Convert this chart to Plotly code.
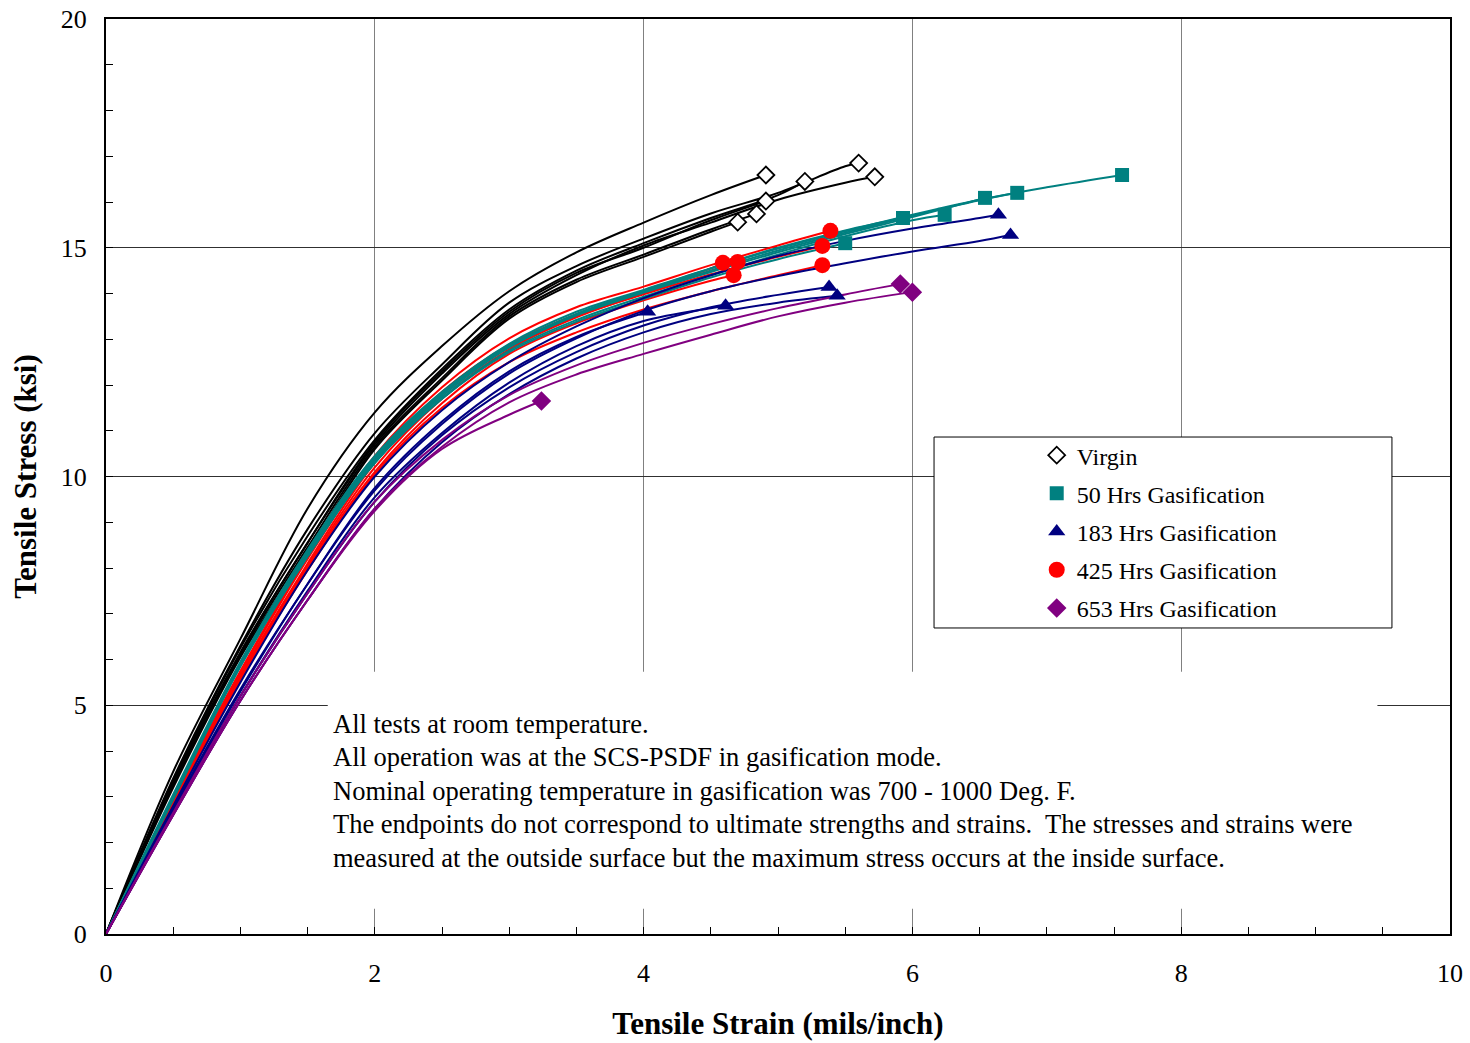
import plotly.graph_objects as go

# ---------------- data ----------------
GRID = [0.0, 0.5, 1.0, 1.5, 2.0, 2.5, 3.0, 3.5, 4.0, 4.5, 5.0, 5.5, 6.0, 6.5, 7.0, 7.5]

SERIES_NAMES = ["Virgin", "50 Hrs Gasification", "183 Hrs Gasification",
                "425 Hrs Gasification", "653 Hrs Gasification"]

# Virgin specimens: stress (ksi) at GRID strains, then endpoint
virgin_stress = [
    [0, 3.55, 6.45, 9.3, 11.4, 12.85, 14.05, 14.9, 15.55, 16.15],
    [0, 3.35, 6.25, 8.7, 10.8, 12.35, 13.65, 14.5, 15.1, 15.65, 16.15],
    [0, 3.4, 6.3, 8.85, 10.95, 12.45, 13.8, 14.6, 15.2, 15.75, 16.2, 16.78],
    [0, 3.3, 6.15, 8.55, 10.7, 12.25, 13.55, 14.4, 15.05, 15.55, 16.05, 16.42],
    [0, 3.3, 6.15, 8.55, 10.75, 12.3, 13.6, 14.45, 15.0, 15.6],
    [0, 3.25, 6.1, 8.45, 10.65, 12.15, 13.5, 14.3, 14.85, 15.4],
    [0, 3.2, 6.05, 8.35, 10.6, 12.1, 13.45, 14.25, 14.8, 15.35],
]
virgin_end_strain = [4.91, 5.20, 5.60, 5.72, 4.91, 4.84, 4.70]
virgin_end_stress = [16.59, 16.45, 16.85, 16.55, 16.02, 15.74, 15.56]

# 50 Hrs gasification
h50_stress = [
    [0, 3.05, 5.95, 8.4, 10.45, 11.85, 12.9, 13.6, 14.08, 14.55, 14.98, 15.36, 15.72, 16.05, 16.32],
    [0, 3.0, 5.9, 8.35, 10.4, 11.8, 12.85, 13.55, 14.05, 14.5, 14.94, 15.33, 15.7, 16.04],
    [0, 3.0, 5.9, 8.3, 10.35, 11.75, 12.82, 13.52, 14.02, 14.47, 14.9, 15.3, 15.67],
    [0, 2.95, 5.85, 8.25, 10.3, 11.7, 12.75, 13.42, 13.93, 14.4, 14.85, 15.25, 15.6],
    [0, 3.0, 5.9, 8.35, 10.4, 11.8, 12.85, 13.55, 14.06, 14.55, 15.0, 15.38],
    [0, 2.95, 5.85, 8.25, 10.3, 11.7, 12.72, 13.38, 13.88, 14.35, 14.75],
]
h50_end_strain = [7.56, 6.78, 6.54, 6.24, 5.93, 5.50]
h50_end_stress = [16.59, 16.20, 16.09, 15.72, 15.65, 15.10]

# 183 Hrs gasification
h183_stress = [
    [0, 2.8, 5.5, 7.95, 10.0, 11.45, 12.5, 13.28, 13.9, 14.4, 14.82, 15.15, 15.42, 15.65],
    [0, 2.7, 5.3, 7.65, 9.7, 11.15, 12.25, 13.02, 13.62, 14.05, 14.38, 14.66, 14.92, 15.15],
    [0, 2.65, 5.2, 7.45, 9.45, 10.9, 11.95, 12.72, 13.3, 13.7, 13.97],
    [0, 2.6, 5.1, 7.3, 9.3, 10.75, 11.8, 12.58, 13.15, 13.55, 13.8],
    [0, 2.65, 5.2, 7.5, 9.55, 10.95, 12.05, 12.85, 13.4, 13.68],
    [0, 2.75, 5.35, 7.65, 9.75, 11.2, 12.3, 13.05],
]
h183_end_strain = [6.64, 6.73, 5.38, 5.44, 4.61, 4.03]
h183_end_stress = [15.72, 15.28, 14.14, 13.95, 13.73, 13.60]

# 425 Hrs gasification
h425_stress = [
    [0, 2.95, 5.75, 8.25, 10.45, 11.95, 13.02, 13.7, 14.15, 14.62, 15.05],
    [0, 2.9, 5.65, 8.1, 10.3, 11.8, 12.83, 13.5, 13.98, 14.42, 14.8],
    [0, 2.85, 5.55, 7.95, 10.05, 11.5, 12.5, 13.15, 13.65, 14.05, 14.4],
    [0, 2.9, 5.7, 8.2, 10.35, 11.85, 12.88, 13.55, 14.05, 14.55],
    [0, 2.85, 5.6, 8.05, 10.2, 11.7, 12.78, 13.48, 14.0, 14.5],
    [0, 2.8, 5.55, 8.0, 10.1, 11.6, 12.68, 13.35, 13.85, 14.28],
]
h425_end_strain = [5.39, 5.33, 5.33, 4.59, 4.70, 4.67]
h425_end_stress = [15.37, 15.04, 14.62, 14.67, 14.69, 14.40]

# 653 Hrs gasification
h653_stress = [
    [0, 2.65, 5.2, 7.45, 9.45, 10.8, 11.78, 12.43, 12.92, 13.33, 13.68, 13.98],
    [0, 2.6, 5.1, 7.3, 9.3, 10.65, 11.62, 12.23, 12.68, 13.1, 13.5, 13.8],
    [0, 2.6, 5.1, 7.3, 9.25, 10.6, 11.35],
]
h653_end_strain = [5.91, 6.00, 3.24]
h653_end_stress = [14.21, 14.03, 11.65]

X_TICKS = [0, 2, 4, 6, 8, 10]
Y_TICKS = [0, 5, 10, 15, 20]

NOTE_LINES = [
    "All tests at room temperature.",
    "All operation was at the SCS-PSDF in gasification mode.",
    "Nominal operating temperature in gasification was 700 - 1000 Deg. F.",
    "The endpoints do not correspond to ultimate strengths and strains.\u00a0 The stresses and strains were",
    "measured at the outside surface but the maximum stress occurs at the inside surface.",
]
NOTE_Y = [4.590, 3.869, 3.126, 2.404, 1.661]

# ---------------- styling ----------------
FONT = "Liberation Serif, Times New Roman, serif"
STYLES = [
    dict(color="black", symbol="diamond", fill="white", size=13, lw=1.8),
    dict(color="#008080", symbol="square", fill="#008080", size=14, lw=0),
    dict(color="#000080", symbol="triangle-up", fill="#000080", size=15, lw=0),
    dict(color="#FF0000", symbol="circle", fill="#FF0000", size=16, lw=0),
    dict(color="#800080", symbol="diamond", fill="#800080", size=15, lw=0),
]
ALL = [
    (virgin_stress, virgin_end_strain, virgin_end_stress),
    (h50_stress, h50_end_strain, h50_end_stress),
    (h183_stress, h183_end_strain, h183_end_stress),
    (h425_stress, h425_end_strain, h425_end_stress),
    (h653_stress, h653_end_strain, h653_end_stress),
]
DRAW_ORDER = [0, 3, 1, 2, 4]

fig = go.Figure()

# curves
for si in DRAW_ORDER:
    curves, ex, ey = ALL[si]
    st = STYLES[si]
    for ci, vals in enumerate(curves):
        xs = GRID[:len(vals)] + [ex[ci]]
        ys = list(vals) + [ey[ci]]
        fig.add_trace(go.Scatter(
            x=xs, y=ys, mode="lines",
            line=dict(color=st["color"], width=2, shape="spline", smoothing=1.0),
            legendgroup=SERIES_NAMES[si], showlegend=False, hoverinfo="skip"))

# endpoint markers (also used as legend entries)
for si in DRAW_ORDER:
    curves, ex, ey = ALL[si]
    st = STYLES[si]
    fig.add_trace(go.Scatter(
        x=ex, y=ey, mode="markers", name=SERIES_NAMES[si],
        legendgroup=SERIES_NAMES[si], showlegend=True, legendrank=si + 1,
        marker=dict(symbol=st["symbol"], size=st["size"], color=st["fill"],
                    line=dict(color=st["color"], width=st["lw"]))))

# white boxes (legend frame and note box) above the grid, below the data
fig.add_shape(type="rect", xref="x", yref="y", x0=6.161, x1=9.568, y0=6.689, y1=10.863,
              line=dict(color="black", width=1), fillcolor="white", layer="between")
fig.add_shape(type="rect", xref="x", yref="y", x0=1.65, x1=9.46, y0=0.55, y1=5.73,
              line=dict(width=0), fillcolor="white", layer="between")

for txt, yv in zip(NOTE_LINES, NOTE_Y):
    fig.add_annotation(x=1.674, y=yv, xref="x", yref="y", xanchor="left", yanchor="middle",
                       align="left", showarrow=False, text=txt,
                       font=dict(family=FONT, size=26.5, color="black"))

axis_common = dict(showline=True, linecolor="black", linewidth=2, mirror=True,
                   ticks="inside", ticklen=7, tickcolor="black", tickwidth=1,
                   zeroline=False, showgrid=True, gridwidth=1,
                   tickfont=dict(family=FONT, size=26, color="black"))

fig.update_xaxes(range=[0, 10], tickvals=X_TICKS, gridcolor="#808080",
                 minor=dict(dtick=0.5, tick0=0, ticks="inside", ticklen=7,
                            tickcolor="black", showgrid=False),
                 title=dict(text="<b>Tensile Strain (mils/inch)</b>",
                            font=dict(family=FONT, size=31, color="black"), standoff=25),
                 ticklabelstandoff=15, **axis_common)
fig.update_yaxes(range=[0, 20], tickvals=Y_TICKS, gridcolor="#303030",
                 minor=dict(dtick=1, tick0=0, ticks="inside", ticklen=7,
                            tickcolor="black", showgrid=False),
                 title=dict(text="<b>Tensile Stress (ksi)</b>",
                            font=dict(family=FONT, size=31, color="black"), standoff=15),
                 ticklabelstandoff=12, **axis_common)

fig.update_layout(
    width=1470, height=1043,
    margin=dict(l=106, r=20, t=19, b=109, autoexpand=False),
    plot_bgcolor="white", paper_bgcolor="white",
    font=dict(family=FONT, color="black"),
    showlegend=True,
    legend=dict(x=0.6925, y=0.5475, xanchor="left", yanchor="top",
                bgcolor="rgba(0,0,0,0)", borderwidth=0,
                font=dict(family=FONT, size=24, color="black"),
                traceorder="grouped", tracegroupgap=4),
)

fig.write_html("out.html")
